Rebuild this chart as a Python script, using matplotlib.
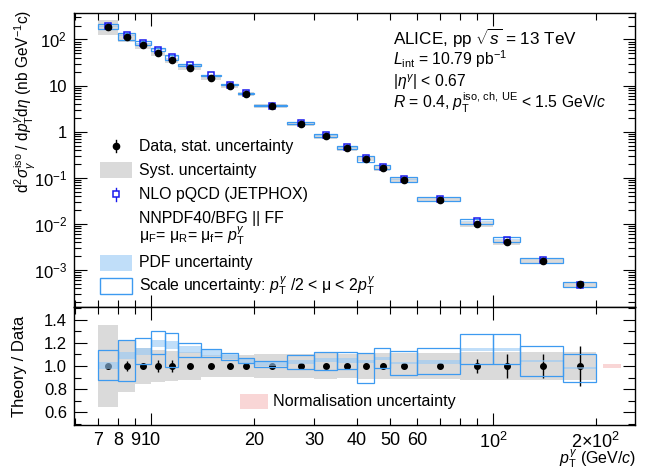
import matplotlib
matplotlib.use('Agg')
import matplotlib.pyplot as plt
import matplotlib.ticker as mticker
from matplotlib.patches import Rectangle
import numpy as np

plt.rcParams['font.family'] = 'Liberation Sans'
plt.rcParams['mathtext.fontset'] = 'custom'
plt.rcParams['mathtext.rm'] = 'Liberation Sans'
plt.rcParams['mathtext.it'] = 'Liberation Sans:italic'
plt.rcParams['mathtext.bf'] = 'Liberation Sans:bold'

# pT bins (GeV/c)
bin_lo = [7, 8, 9, 10, 11, 12, 14, 16, 18, 20, 25, 30, 35, 40, 45, 50, 60, 80, 100, 120, 160]
bin_hi = [8, 9, 10, 11, 12, 14, 16, 18, 20, 25, 30, 35, 40, 45, 50, 60, 80, 100, 120, 160, 200]

# measured isolated photon cross section (nb GeV^-1 c)
xsec = [190, 112, 74, 50, 35.6, 24.3, 14.8, 9.6, 6.46, 3.55, 1.49, 0.79, 0.437,
        0.26, 0.161, 0.090, 0.0333, 0.0099, 0.0040, 0.00157, 0.00049]
# relative uncertainties
stat_rel = [0.02, 0.045, 0.03, 0.055, 0.055, 0.01, 0.01, 0.01, 0.01, 0.01, 0.01, 0.01, 0.01,
            0.015, 0.025, 0.01, 0.015, 0.065, 0.10, 0.10, 0.17]
syst_rel = [0.36, 0.223, 0.157, 0.136, 0.128, 0.122, 0.093, 0.093, 0.093, 0.10, 0.10, 0.113, 0.107,
            0.113, 0.113, 0.113, 0.113, 0.12, 0.12, 0.12, 0.124]

# JETPHOX / data
pdf_lo = [0.971, 1.063, 1.096, 1.168, 1.145, 1.116, 1.09, 1.06, 1.03, 1.0, 1.017, 1.035, 1.03,
          1.025, 1.05, 1.015, 1.02, 1.127, 1.13, 1.037, 0.975]
pdf_hi = [1.037, 1.122, 1.157, 1.226, 1.217, 1.174, 1.14, 1.10, 1.06, 1.045, 1.052, 1.07, 1.07,
          1.055, 1.08, 1.037, 1.05, 1.154, 1.16, 1.05, 0.99]
scale_lo = [0.876, 0.867, 1.015, 1.10, 0.989, 1.081, 1.08, 1.052, 1.029, 0.994, 0.977, 0.965, 0.971,
            0.855, 0.98, 0.922, 0.928, 1.015, 1.015, 0.916, 0.858]
scale_hi = [1.137, 1.226, 1.246, 1.30, 1.284, 1.203, 1.15, 1.113, 1.067, 1.046, 1.096, 1.124, 1.119,
            1.116, 1.154, 1.127, 1.154, 1.275, 1.275, 1.174, 1.10]

norm_unc = 0.015

lo = np.array(bin_lo, dtype=float)
hi = np.array(bin_hi, dtype=float)
x = 0.5 * (lo + hi)
w = hi - lo
y = np.array(xsec)
stat = np.array(stat_rel)
syst = np.array(syst_rel)
plo = np.array(pdf_lo)
phi = np.array(pdf_hi)
slo = np.array(scale_lo)
shi = np.array(scale_hi)
nlo = 0.5 * (plo + phi)

grey = '#dadada'
pdf_col = '#96c8f5'
scale_col = '#3d9af0'
nlo_col = '#1a1aee'
pink = '#f8cccc'

fig = plt.figure(figsize=(6.46, 4.71), dpi=100)
ax1 = fig.add_axes([74/646, 1-307/471, 561/646, 294.3/471])
ax2 = fig.add_axes([74/646, 1-425/471, 561/646, 118/471], sharex=ax1)

# ---- top panel: spectrum
ax1.bar(lo, y*2*syst, bottom=y*(1-syst), width=w, align='edge', color=grey, lw=0, zorder=1)
ax1.bar(lo, y*(phi-plo), bottom=y*plo, width=w, align='edge', color=pdf_col, alpha=0.6, lw=0, zorder=2)
ax1.bar(lo, y*(shi-slo), bottom=y*slo, width=w, align='edge', fill=False, edgecolor=scale_col, lw=0.9, zorder=3)
ax1.plot(x, y*nlo, 's', mfc='none', mec=nlo_col, mew=1.1, ms=5, zorder=4)
ax1.errorbar(x, y, yerr=y*stat, fmt='o', color='k', ms=4.5, elinewidth=1, capsize=0, zorder=5)

ax1.set_xscale('log')
ax1.set_yscale('log')
ax1.set_xlim(5.95, 260)
ax1.set_ylim(1.58e-4, 379)

def ylab(v, pos):
    e = int(round(np.log10(v)))
    if e == 0:
        return '1'
    if e == 1:
        return '10'
    return r'10$^{%d}$' % e

ax1.yaxis.set_major_locator(mticker.LogLocator(base=10, numticks=20))
ax1.yaxis.set_minor_locator(mticker.LogLocator(base=10, subs=np.arange(2, 10), numticks=20))
ax1.yaxis.set_major_formatter(mticker.FuncFormatter(ylab))
ax1.yaxis.set_minor_formatter(mticker.NullFormatter())

# legend (drawn by hand)
T = ax1.transAxes
tx = 0.116
fs = 11.4
ax1.plot([0.075, 0.075], [0.547-0.022, 0.547+0.022], color='k', lw=1, transform=T)
ax1.plot([0.075], [0.547], 'o', color='k', ms=4.5, transform=T)
ax1.text(tx, 0.547, 'Data, stat. uncertainty', transform=T, va='center', fontsize=fs)
ax1.add_patch(Rectangle((0.046, 0.4655-0.027), 0.057, 0.054, transform=T, color=grey, lw=0))
ax1.text(tx, 0.4655, 'Syst. uncertainty', transform=T, va='center', fontsize=fs)
ax1.plot([0.075, 0.075], [0.383-0.022, 0.383+0.022], color=nlo_col, lw=1, transform=T)
ax1.plot([0.075], [0.383], 's', mfc='white', mec=nlo_col, mew=1.1, ms=5, transform=T)
ax1.text(tx, 0.383, 'NLO pQCD (JETPHOX)', transform=T, va='center', fontsize=fs)
ax1.text(tx, 0.301, 'NNPDF40/BFG || FF', transform=T, va='center', fontsize=fs)
ax1.text(tx, 0.241, r'μ$_{\rm F}$= μ$_{\rm R}$= μ$_{\rm f}$= $p_{\rm T}^{\gamma}$', transform=T, va='center', fontsize=fs)
ax1.add_patch(Rectangle((0.046, 0.1505-0.027), 0.057, 0.054, transform=T, color=pdf_col, alpha=0.6, lw=0))
ax1.text(tx, 0.1505, 'PDF uncertainty', transform=T, va='center', fontsize=fs)
ax1.add_patch(Rectangle((0.046, 0.071-0.027), 0.057, 0.054, transform=T, fill=False, edgecolor=scale_col, lw=1))
ax1.text(tx, 0.071, r'Scale uncertainty: $p_{\rm T}^{\gamma}$ /2 < μ < 2$p_{\rm T}^{\gamma}$', transform=T, va='center', fontsize=fs)

# system text
ax1.text(0.569, 0.890, r'ALICE, pp $\sqrt{s}$ = 13 TeV', transform=T, va='baseline', fontsize=12.3)
ax1.text(0.569, 0.822, r'$L_{\rm int}$ = 10.79 pb$^{-1}$', transform=T, va='baseline', fontsize=11.3)
ax1.text(0.569, 0.748, r'|$\eta^{\gamma}$| < 0.67', transform=T, va='baseline', fontsize=11.3)
ax1.text(0.569, 0.676, r'$R$ = 0.4, $p_{\rm T}^{\rm iso,\,ch,\,UE}$ < 1.5 GeV/$c$', transform=T, va='baseline', fontsize=11.3)

# ---- bottom panel: theory / data
ax2.bar(lo, 2*syst, bottom=1-syst, width=w, align='edge', color=grey, lw=0, zorder=1)
ax2.errorbar(x, np.ones_like(x), yerr=stat, fmt='o', color='k', ms=4, elinewidth=1, capsize=0, zorder=2)
ax2.bar(lo, phi-plo, bottom=plo, width=w, align='edge', color=pdf_col, alpha=0.6, lw=0, zorder=3)
ax2.bar(lo, shi-slo, bottom=slo, width=w, align='edge', fill=False, edgecolor=scale_col, lw=0.9, zorder=4)
ax2.bar([210], [2*norm_unc], bottom=1-norm_unc, width=26, align='edge', color=pink, alpha=0.8, lw=0)

ax2.add_patch(Rectangle((0.296, 0.138), 0.049, 0.122, transform=ax2.transAxes, color=pink, alpha=0.8, lw=0))
ax2.text(0.355, 0.2, 'Normalisation uncertainty', transform=ax2.transAxes, va='center', fontsize=11.6)

ax2.set_ylim(0.487, 1.513)
ax2.yaxis.set_major_locator(mticker.FixedLocator([0.6, 0.8, 1.0, 1.2, 1.4]))
ax2.yaxis.set_minor_locator(mticker.FixedLocator([0.5, 0.7, 0.9, 1.1, 1.3, 1.5]))
ax2.yaxis.set_major_formatter(mticker.FormatStrFormatter('%.1f'))

ax2.xaxis.set_major_locator(mticker.FixedLocator([10, 100]))
ax2.xaxis.set_minor_locator(mticker.FixedLocator([6, 7, 8, 9, 20, 30, 40, 50, 60, 70, 80, 90, 200]))
ax2.xaxis.set_major_formatter(mticker.FixedFormatter(['10', r'10$^2$']))
minor_labels = {7: '7', 8: '8', 9: '9', 20: '20', 30: '30', 40: '40', 50: '50', 60: '60', 200: r'2$\times$10$^2$'}
ax2.xaxis.set_minor_formatter(mticker.FuncFormatter(lambda v, p: minor_labels.get(int(round(v)), '')))

for ax in (ax1, ax2):
    ax.tick_params(which='both', direction='in', top=True, right=True, labelsize=12, pad=5)
    ax.tick_params(which='major', length=9, width=0.8)
    ax.tick_params(which='minor', length=5, width=0.8)
    for s in ax.spines.values():
        s.set_linewidth(1.0)
ax1.tick_params(which='both', labelbottom=False)
ax2.tick_params(axis='x', which='both', labelsize=13, pad=5)

fig.text(25/646, 1-10/471, r'd$^{2}\sigma_{\gamma}^{\rm iso}$ / d$p_{\rm T}^{\gamma}$d$\eta$ (nb GeV$^{-1}$c)',
         rotation=90, ha='center', va='top', fontsize=11.2)
fig.text(20/646, 1-366/471, 'Theory / Data', rotation=90, ha='center', va='center', fontsize=12)
fig.text(636/646, 1-470.5/471, r'$p_{\rm T}^{\gamma}$ (GeV/$c$)', ha='right', va='bottom', fontsize=11.5)

fig.savefig('out.png', dpi=100)
